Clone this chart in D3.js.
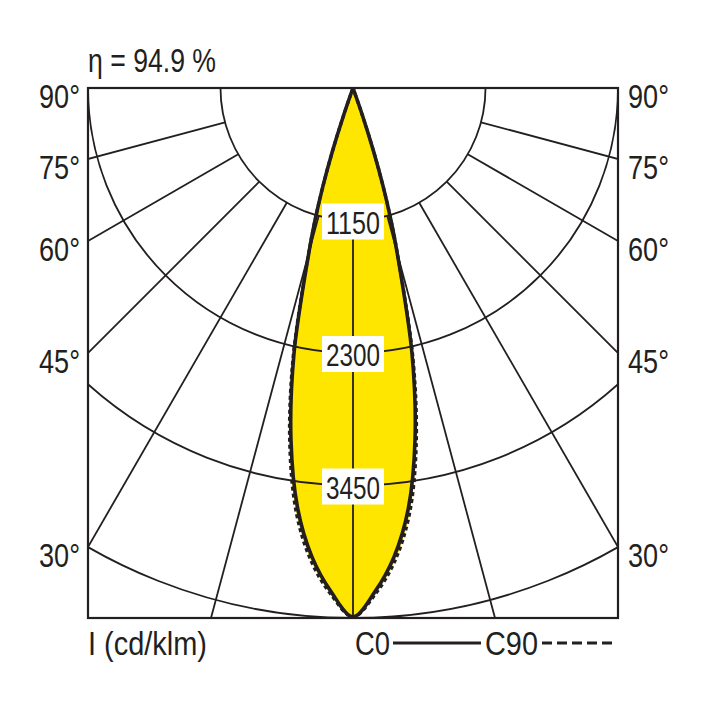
<!DOCTYPE html>
<html>
<head>
<meta charset="utf-8">
<script src="https://cdn.jsdelivr.net/npm/d3@7"></script>
<style>
  body { margin: 0; background: #fff; }
  text { font-family: "Liberation Sans", Arial, sans-serif; fill: #231f20; }
</style>
</head>
<body>
<svg id="chart"></svg>
<script>
const width = 708;
const height = 708;

// gamma angles (deg from nadir) and intensities in cd/klm
const angles = [0, 2.5, 5, 7.5, 10, 12.5, 15, 16, 17, 18, 19, 20];
const c0 = [4590, 4375, 4085, 3680, 3100, 2370, 1480, 1200, 900, 580, 250, 0];
const c90 = [4590, 4400, 4130, 3740, 3160, 2410, 1490, 1205, 900, 580, 250, 0];

const ringValues = [1150, 2300, 3450, 4600];
const ringLabels = [1150, 2300, 3450];
const spokeAngles = [0, 15, 30, 45, 60, 75, 90];
const sideLabels = [90, 75, 60, 45, 30];

const eta = "η = 94.9 %";
const unitLabel = "I (cd/klm)";

const box = { x0: 88, x1: 618, y0: 88, y1: 618 };
const cx = (box.x0 + box.x1) / 2;
const cy = box.y0;
const half = (box.x1 - box.x0) / 2;
const ink = "#231f20";
const rad = Math.PI / 180;

const r = d3.scaleLinear().domain([0, 4600]).range([0, box.y1 - box.y0]);

let svg = d3.select("#chart").attr("width", width).attr("height", height);

svg.append("defs").append("clipPath").attr("id", "clip")
    .append("rect")
    .attr("x", box.x0).attr("y", box.y0)
    .attr("width", box.x1 - box.x0).attr("height", box.y1 - box.y0);

const plot = svg.append("g").attr("clip-path", "url(#clip)");
const g = plot.append("g").attr("transform", `translate(${cx},${cy})`);

const lobePoints = vals => {
    const right = angles.map((a, i) => ({ a: a, v: vals[i] }));
    const left = right.slice().reverse().map(d => ({ a: -d.a, v: d.v }));
    return left.concat(right.slice(1));
};

const lobe = d3.lineRadial()
    .angle(d => Math.PI - d.a * rad)
    .radius(d => r(d.v))
    .curve(d3.curveCatmullRom.alpha(0.5));

// yellow fill
[c90, c0].forEach(vals => {
    g.append("path")
        .attr("d", lobe(lobePoints(vals)) + "Z")
        .attr("fill", "#ffe600")
        .attr("stroke", "none");
});

// rings
g.selectAll(".ring")
    .data(ringValues)
    .enter()
    .append("circle")
    .attr("class", "ring")
    .attr("r", d => r(d))
    .attr("fill", "none")
    .attr("stroke", ink)
    .attr("stroke-width", 1.8);

// spokes from first ring outward
const spokes = [];
spokeAngles.forEach(a => {
    spokes.push(a);
    if (a > 0) spokes.push(-a);
});
g.selectAll(".spoke")
    .data(spokes)
    .enter()
    .append("line")
    .attr("class", "spoke")
    .attr("x1", d => r(ringValues[0]) * Math.sin(d * rad))
    .attr("y1", d => r(ringValues[0]) * Math.cos(d * rad))
    .attr("x2", d => r(d === 0 ? 4600 : 9000) * Math.sin(d * rad))
    .attr("y2", d => r(d === 0 ? 4600 : 9000) * Math.cos(d * rad))
    .attr("stroke", ink)
    .attr("stroke-width", 1.8);

// lobe outlines
g.append("path")
    .attr("d", lobe(lobePoints(c90)))
    .attr("fill", "none")
    .attr("stroke", ink)
    .attr("stroke-width", 3.2)
    .attr("stroke-dasharray", "4,3");
g.append("path")
    .attr("d", lobe(lobePoints(c0)))
    .attr("fill", "none")
    .attr("stroke", ink)
    .attr("stroke-width", 3.6)
    .attr("stroke-linejoin", "round");

// text helper: squeeze to the measured width of the condensed original
const label = (sel, len) => sel
    .attr("textLength", len)
    .attr("lengthAdjust", "spacingAndGlyphs");

// ring value labels on the axis
const lab = g.selectAll(".rlab")
    .data(ringLabels)
    .enter()
    .append("g")
    .attr("class", "rlab")
    .attr("transform", d => `translate(0,${r(d) + 1})`);
lab.append("rect")
    .attr("x", -31).attr("y", -18)
    .attr("width", 62).attr("height", 36)
    .attr("fill", "#fff");
lab.append("text")
    .attr("text-anchor", "middle")
    .attr("y", 12)
    .attr("font-size", 32)
    .text(d => d)
    .call(label, 54);

// frame
svg.append("rect")
    .attr("x", box.x0).attr("y", box.y0)
    .attr("width", box.x1 - box.x0).attr("height", box.y1 - box.y0)
    .attr("fill", "none")
    .attr("stroke", ink)
    .attr("stroke-width", 2.2);

// side angle labels where spokes meet the frame
const edgeY = a => a === 90 ? cy : cy + half / Math.tan(a * rad);
svg.selectAll(".lab-l")
    .data(sideLabels)
    .enter()
    .append("text")
    .attr("x", 80)
    .attr("y", d => edgeY(d) + 20)
    .attr("text-anchor", "end")
    .attr("font-size", 34)
    .text(d => d + "°")
    .call(label, 41);
svg.selectAll(".lab-r")
    .data(sideLabels)
    .enter()
    .append("text")
    .attr("x", 628)
    .attr("y", d => edgeY(d) + 20)
    .attr("font-size", 34)
    .text(d => d + "°")
    .call(label, 41);

// title and legend
svg.append("text")
    .attr("x", 88).attr("y", 72)
    .attr("font-size", 34)
    .text(eta)
    .call(label, 128);
svg.append("text")
    .attr("x", 88).attr("y", 655)
    .attr("font-size", 34)
    .text(unitLabel)
    .call(label, 119);
svg.append("text")
    .attr("x", 355).attr("y", 655)
    .attr("font-size", 34)
    .text("C0")
    .call(label, 35);
svg.append("line")
    .attr("x1", 393).attr("x2", 481)
    .attr("y1", 643).attr("y2", 643)
    .attr("stroke", ink).attr("stroke-width", 3);
svg.append("text")
    .attr("x", 485).attr("y", 655)
    .attr("font-size", 34)
    .text("C90")
    .call(label, 53);
svg.append("line")
    .attr("x1", 542).attr("x2", 617)
    .attr("y1", 643).attr("y2", 643)
    .attr("stroke", ink).attr("stroke-width", 3)
    .attr("stroke-dasharray", "10,5");
</script>
</body>
</html>
